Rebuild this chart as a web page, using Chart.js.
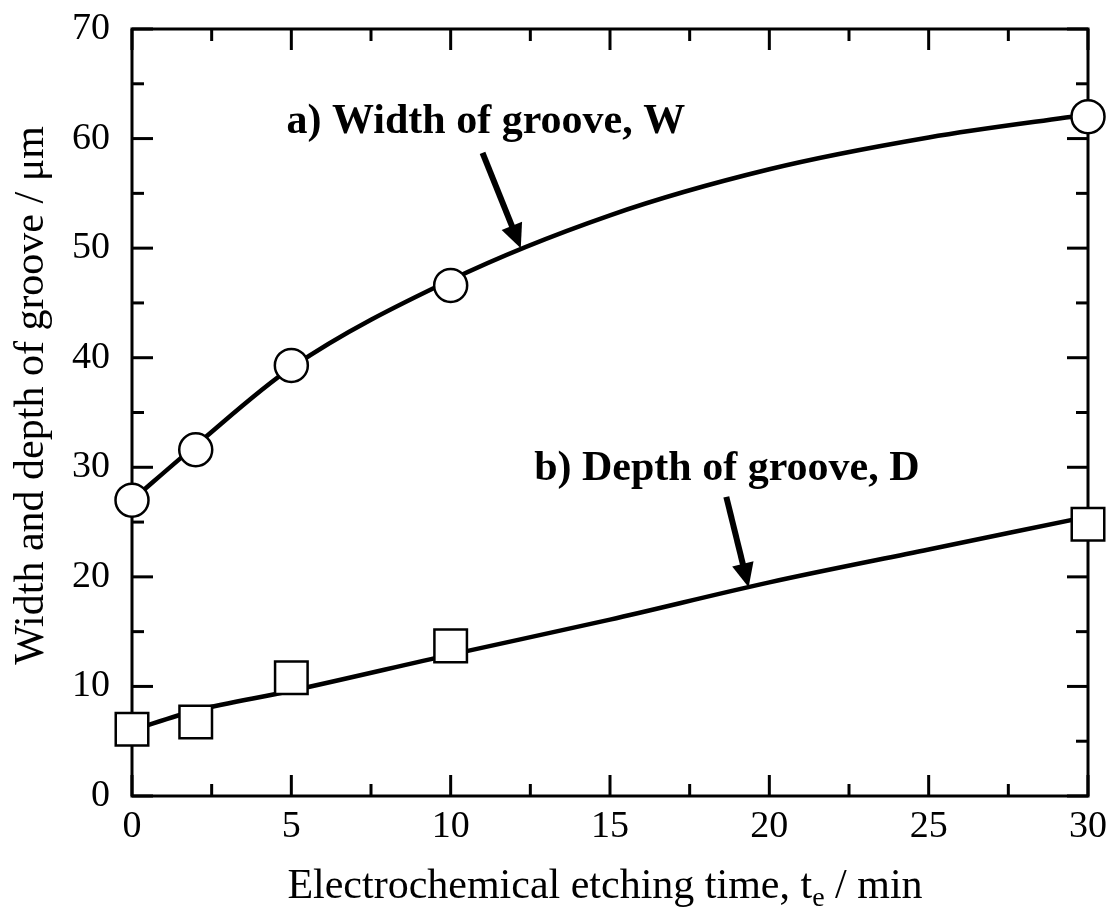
<!DOCTYPE html>
<html>
<head>
<meta charset="utf-8">
<title>Groove width and depth vs etching time</title>
<script src="https://cdn.jsdelivr.net/npm/chart.js@4.4.1/dist/chart.umd.min.js"></script>
<style>
    html, body { margin: 0; padding: 0; background: #fff; }
    #wrap { width: 1115px; height: 913px; }
</style>
</head>
<body>
<div id="wrap"><canvas id="grooveChart" width="1115" height="913"></canvas></div>
<script>
const etchTime = [0, 2, 5, 10, 30];
const widthW = [27.0, 31.6, 39.3, 46.6, 62.0];
const depthD = [6.1, 6.75, 10.8, 13.7, 24.8];

// Fitted curves drawn through the points (also)
const fitTime = [0, 2, 5, 10, 15, 20, 25, 30];
const fitW = [27.0, 32.0, 39.1, 47.1, 53.0, 57.2, 60.1, 62.2];
const fitD = [6.0, 7.8, 9.6, 12.9, 16.1, 19.5, 22.5, 25.5];

// Tick positions
const xMajorTicks = [0, 5, 10, 15, 20, 25, 30];
const xMinorTicks = [2.5, 7.5, 12.5, 17.5, 22.5, 27.5];
const yMajorTicks = [0, 10, 20, 30, 40, 50, 60, 70];
const yMinorTicks = [5, 15, 25, 35, 45, 55, 65];

// Annotation labels and arrows, in data units
const notes = [
    { text: 'a) Width of groove, W', x: 4.85, y: 60.5, tail: [11.0, 58.7], tip: [12.2, 50.0] },
    { text: 'b) Depth of groove, D', x: 12.62, y: 28.85, tail: [18.65, 27.3], tip: [19.35, 19.05] }
];

const serif = '"Liberation Serif", "Times New Roman", serif';

function toPoints(xs, ys) {
    return xs.map((x, i) => ({ x: x, y: ys[i] }));
}

function strokeLine(ctx, x0, y0, x1, y1) {
    ctx.beginPath();
    ctx.moveTo(x0, y0);
    ctx.lineTo(x1, y1);
    ctx.stroke();
}

function drawArrow(ctx, x0, y0, x1, y1) {
    const ang = Math.atan2(y1 - y0, x1 - x0);
    const headLen = 24, headW = 11;
    const bx = x1 - headLen * Math.cos(ang);
    const by = y1 - headLen * Math.sin(ang);
    ctx.lineWidth = 6;
    strokeLine(ctx, x0, y0, bx + 2 * Math.cos(ang), by + 2 * Math.sin(ang));
    ctx.beginPath();
    ctx.moveTo(x1, y1);
    ctx.lineTo(bx + headW * Math.sin(ang), by - headW * Math.cos(ang));
    ctx.lineTo(bx - headW * Math.sin(ang), by + headW * Math.cos(ang));
    ctx.closePath();
    ctx.fill();
}

// Frame, inward ticks on all four sides, axis titles
const framePlugin = {
    id: 'frame',
    beforeDatasetsDraw(chart) {
        const ctx = chart.ctx;
        const { left, right, top, bottom } = chart.chartArea;
        const xs = chart.scales.x, ys = chart.scales.y;
        ctx.save();
        ctx.strokeStyle = '#000';
        ctx.lineWidth = 3;
        ctx.strokeRect(left, top, right - left, bottom - top);

        const major = 21, minor = 12;
        xMajorTicks.concat(xMinorTicks).forEach(v => {
            const len = xMajorTicks.includes(v) ? major : minor;
            const px = xs.getPixelForValue(v);
            strokeLine(ctx, px, bottom, px, bottom - len);
            strokeLine(ctx, px, top, px, top + len);
        });
        yMajorTicks.concat(yMinorTicks).forEach(v => {
            const len = yMajorTicks.includes(v) ? major : minor;
            const py = ys.getPixelForValue(v);
            strokeLine(ctx, left, py, left + len, py);
            strokeLine(ctx, right, py, right - len, py);
        });

        // y axis title
        ctx.fillStyle = '#000';
        ctx.save();
        ctx.translate(43, (top + bottom) / 2 - 17);
        ctx.rotate(-Math.PI / 2);
        ctx.font = '42px ' + serif;
        ctx.textAlign = 'center';
        ctx.textBaseline = 'alphabetic';
        ctx.fillText('Width and depth of groove / μm', 0, 0);
        ctx.restore();

        // x axis title with subscript
        const main = 'Electrochemical etching time, t';
        const sub = 'e';
        const tail = ' / min';
        ctx.textAlign = 'left';
        ctx.textBaseline = 'alphabetic';
        ctx.font = '42px ' + serif;
        const w1 = ctx.measureText(main).width;
        const w3 = ctx.measureText(tail).width;
        ctx.font = '28px ' + serif;
        const w2 = ctx.measureText(sub).width;
        const x0 = (left + right) / 2 - 5 - (w1 + w2 + w3) / 2;
        const base = 898;
        ctx.font = '42px ' + serif;
        ctx.fillText(main, x0, base);
        ctx.font = '28px ' + serif;
        ctx.fillText(sub, x0 + w1, base + 8);
        ctx.font = '42px ' + serif;
        ctx.fillText(tail, x0 + w1 + w2, base);
        ctx.restore();
    },
    afterDatasetsDraw(chart) {
        const ctx = chart.ctx;
        const xs = chart.scales.x, ys = chart.scales.y;
        ctx.save();
        ctx.fillStyle = '#000';
        ctx.strokeStyle = '#000';
        ctx.font = 'bold 42px ' + serif;
        ctx.textAlign = 'left';
        ctx.textBaseline = 'alphabetic';
        notes.forEach(n => {
            ctx.fillText(n.text, xs.getPixelForValue(n.x), ys.getPixelForValue(n.y));
            drawArrow(ctx,
                xs.getPixelForValue(n.tail[0]), ys.getPixelForValue(n.tail[1]),
                xs.getPixelForValue(n.tip[0]), ys.getPixelForValue(n.tip[1]));
        });
        ctx.restore();
    }
};

const ctx = document.getElementById('grooveChart').getContext('2d');
const grooveChart = new Chart(ctx, {
    type: 'scatter',
    data: {
        datasets: [
            {
                label: 'Width of groove, W',
                data: toPoints(etchTime, widthW),
                pointStyle: 'circle',
                pointRadius: 16.5,
                pointBorderWidth: 2.5,
                borderColor: '#000',
                backgroundColor: '#fff',
                showLine: false,
                clip: false,
                order: 0
            },
            {
                label: 'Depth of groove, D',
                data: toPoints(etchTime, depthD),
                pointStyle: 'rect',
                pointRadius: 23,
                pointBorderWidth: 2.5,
                borderColor: '#000',
                backgroundColor: '#fff',
                showLine: false,
                clip: false,
                order: 0
            },
            {
                label: 'W curve',
                data: toPoints(fitTime, fitW),
                showLine: true,
                pointRadius: 0,
                borderWidth: 4.5,
                borderColor: '#000',
                cubicInterpolationMode: 'monotone',
                fill: false,
                clip: false,
                order: 1
            },
            {
                label: 'D curve',
                data: toPoints(fitTime, fitD),
                showLine: true,
                pointRadius: 0,
                borderWidth: 4.5,
                borderColor: '#000',
                cubicInterpolationMode: 'monotone',
                fill: false,
                clip: false,
                order: 1
            }
        ]
    },
    options: {
        responsive: false,
        animation: false,
        devicePixelRatio: 1,
        layout: { autoPadding: false, padding: { left: 0, right: 25, top: 29, bottom: 0 } },
        plugins: {
            legend: { display: false },
            tooltip: { enabled: false }
        },
        scales: {
            x: {
                type: 'linear',
                min: 0,
                max: 30,
                grid: { display: false, drawTicks: false },
                border: { display: false },
                ticks: {
                    stepSize: 5,
                    padding: 8,
                    color: '#000',
                    maxRotation: 0,
                    autoSkip: false,
                    font: { family: serif, size: 38 }
                },
                afterFit: scale => { scale.height = 117; }
            },
            y: {
                type: 'linear',
                min: 0,
                max: 70,
                // invisible tick marks only push the labels away from the axis
                grid: { display: true, drawOnChartArea: false, drawTicks: true, tickLength: 16, color: 'rgba(0,0,0,0)' },
                border: { display: false },
                ticks: {
                    stepSize: 10,
                    padding: 6,
                    color: '#000',
                    font: { family: serif, size: 38 }
                },
                afterFit: scale => { scale.width = 132; }
            }
        }
    },
    plugins: [framePlugin]
});
</script>
</body>
</html>
